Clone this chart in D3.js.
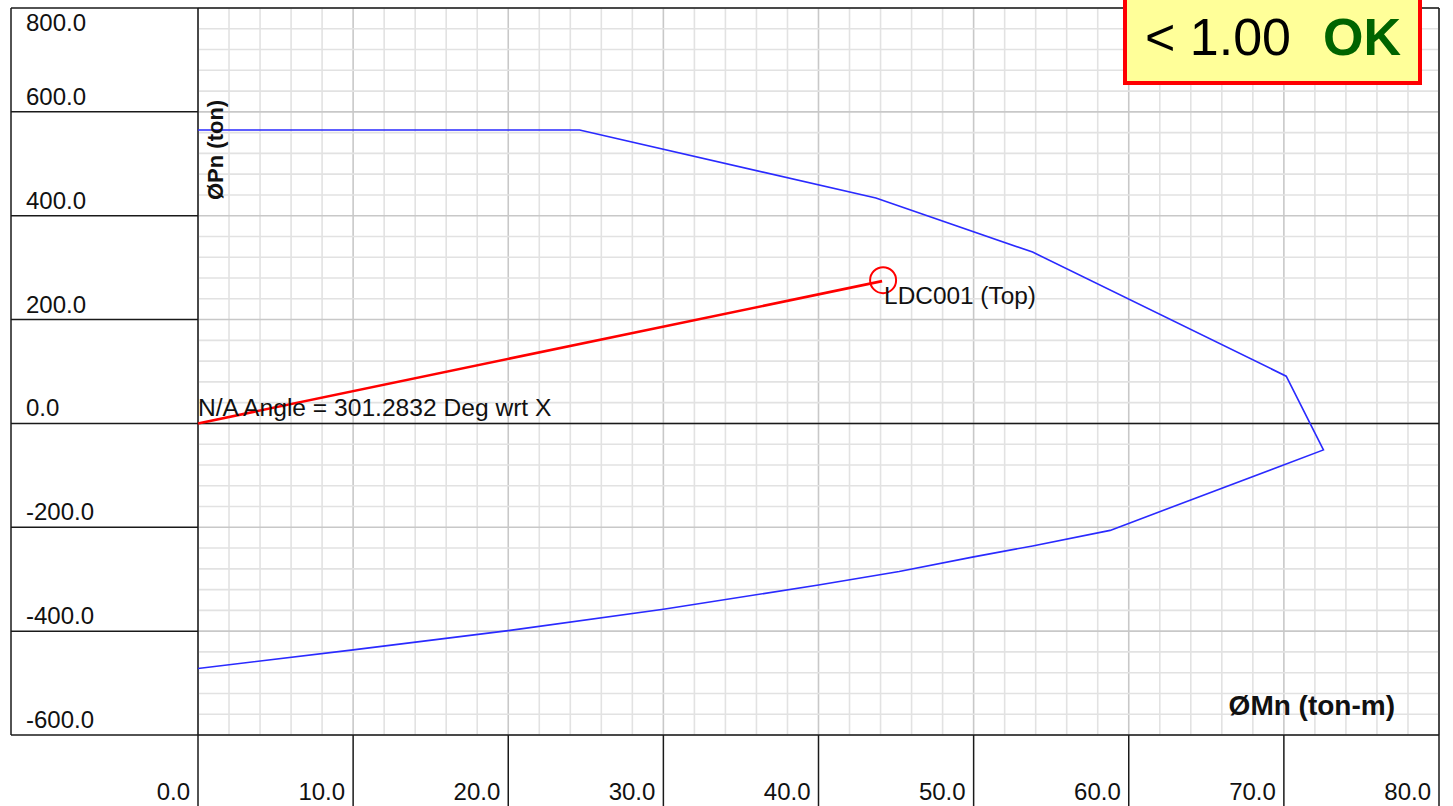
<!DOCTYPE html>
<html>
<head>
<meta charset="utf-8">
<script src="https://cdn.jsdelivr.net/npm/d3@7"></script>
<style>
  html, body { margin: 0; padding: 0; background: #fff; }
  svg { display: block; font-family: "Liberation Sans", Arial, sans-serif; }
</style>
</head>
<body>
<svg id="chart" width="1453" height="806"></svg>
<script>
// Axis ticks
const momentTicks = [0, 10, 20, 30, 40, 50, 60, 70, 80];
const axialTicks = [-600, -400, -200, 0, 200, 400, 600, 800];

// Interaction diagram (capacity envelope), ton-m / ton
const capacityM = [0, 24.6, 43.7, 53.8, 70.15, 72.55, 58.8, 53.8, 50, 45.2, 40, 30, 20, 10, 0];
const capacityP = [565, 565, 434, 330, 91, -51, -206, -236, -257, -285, -311, -358, -399, -436, -472];

// Demand line for load combination
const demandM = [0, 44.1];
const demandP = [0, 274];
const demandLabel = "LDC001 (Top)";
const angleLabel = "N/A Angle = 301.2832 Deg wrt X";
const ratioText = "< 1.00";
const statusText = "OK";

const svg = d3.select("#chart");
const plotL = 198, plotR = 1439, plotT = 8, plotB = 735, panelL = 11;

const x = d3.scaleLinear().domain([0, 80]).range([plotL, plotR]);
const y = d3.scaleLinear().domain([-600, 800]).range([plotB, plotT]);

// Minor / major grid
const grid = svg.append("g");
d3.range(0, 80.001, 2).forEach(v => {
  const major = Math.abs(v % 10) < 1e-9;
  grid.append("line")
    .attr("x1", x(v)).attr("x2", x(v)).attr("y1", plotT).attr("y2", plotB)
    .attr("stroke", major ? "#c8c8c8" : "#e2e2e2").attr("stroke-width", 1.6);
});
d3.range(-600, 800.001, 40).forEach(v => {
  const major = Math.abs(v % 200) < 1e-9;
  grid.append("line")
    .attr("x1", plotL).attr("x2", plotR).attr("y1", y(v)).attr("y2", y(v))
    .attr("stroke", major ? "#c8c8c8" : "#e2e2e2").attr("stroke-width", 1.6);
});

// Frame lines
const frame = svg.append("g").attr("stroke", "#1a1a1a").attr("stroke-width", 1.5);
// left axis panel rows
axialTicks.forEach(v => {
  frame.append("line").attr("x1", panelL).attr("x2", plotL).attr("y1", y(v)).attr("y2", y(v));
});
frame.append("line").attr("x1", panelL).attr("x2", panelL).attr("y1", plotT).attr("y2", plotB);
frame.append("line").attr("x1", plotL).attr("x2", plotR).attr("y1", plotT).attr("y2", plotT);
frame.append("line").attr("x1", plotL).attr("x2", plotR).attr("y1", plotB).attr("y2", plotB);
frame.append("line").attr("x1", plotR).attr("x2", plotR).attr("y1", plotT).attr("y2", plotB);
frame.append("line").attr("x1", plotL).attr("x2", plotR).attr("y1", y(0)).attr("y2", y(0));
// bottom axis panel columns
momentTicks.forEach(v => {
  frame.append("line").attr("x1", x(v)).attr("x2", x(v))
    .attr("y1", v === 0 ? plotT : plotB).attr("y2", 806);
});

// Tick labels
svg.append("g").selectAll("text").data(axialTicks).join("text")
  .attr("x", 26)
  .attr("y", d => d === 800 ? 31 : y(d) - 7)
  .attr("font-size", 24).attr("fill", "#111")
  .text(d => d.toFixed(1));
svg.append("g").selectAll("text").data(momentTicks).join("text")
  .attr("x", d => x(d) - 8).attr("y", 800)
  .attr("text-anchor", "end")
  .attr("font-size", 24).attr("fill", "#111")
  .text(d => d.toFixed(1));

// Capacity envelope
const line = d3.line().x(d => x(d[0])).y(d => y(d[1]));
svg.append("path")
  .datum(capacityM.map((m, i) => [m, capacityP[i]]))
  .attr("d", line)
  .attr("fill", "none").attr("stroke", "#2a2aff").attr("stroke-width", 1.6);

// Demand line and point
const demand = demandM.map((m, i) => [m, demandP[i]]);
svg.append("path").datum(demand).attr("d", line)
  .attr("fill", "none").attr("stroke", "#ff0000").attr("stroke-width", 2.6);
const last = demand[demand.length - 1];
svg.append("circle")
  .attr("cx", x(last[0]) + 1).attr("cy", y(last[1]) - 1).attr("r", 13)
  .attr("fill", "none").attr("stroke", "#ff0000").attr("stroke-width", 2);

// Annotations
svg.append("text").attr("x", x(last[0]) + 2).attr("y", y(last[1]) + 23)
  .attr("font-size", 24.4).attr("fill", "#111").text(demandLabel);
svg.append("text").attr("x", plotL).attr("y", 416)
  .attr("font-size", 24.6).attr("fill", "#111").text(angleLabel);

// Axis titles
svg.append("text")
  .attr("transform", `translate(223,200) rotate(-90)`)
  .attr("font-size", 22).attr("font-weight", "bold").attr("fill", "#111")
  .text("ØPn (ton)");
svg.append("text")
  .attr("x", 1395).attr("y", 715).attr("text-anchor", "end")
  .attr("font-size", 28).attr("font-weight", "bold").attr("fill", "#111")
  .text("ØMn (ton-m)");

// Ratio status box
svg.append("rect")
  .attr("x", 1125).attr("y", -10).attr("width", 295).attr("height", 93)
  .attr("fill", "#ffff99").attr("stroke", "#ff0000").attr("stroke-width", 4);
svg.append("text").attr("x", 1145).attr("y", 55)
  .attr("font-size", 52).attr("fill", "#000").text(ratioText);
svg.append("text").attr("x", 1323).attr("y", 55)
  .attr("font-size", 52).attr("font-weight", "bold").attr("fill", "#006400").text(statusText);
</script>
</body>
</html>
